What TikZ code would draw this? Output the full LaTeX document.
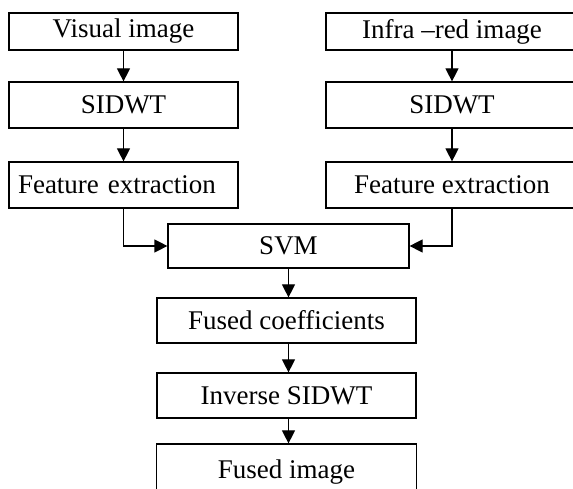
\documentclass[tikz,border=0pt]{standalone}
\usepackage{fontspec}
\setmainfont{Liberation Serif}
\usetikzlibrary{arrows.meta}

\begin{document}
\begin{tikzpicture}[x=1pt, y=1pt,
    block/.style = {draw, line width=1.2pt, inner sep=0pt, font=\fontsize{27}{32}\selectfont},
    flow/.style = {line width=1.2pt, -{Triangle[width=13pt, length=13pt]}}]
        \useasboundingbox (0,0) rectangle (573,489);
        \clip (0,0) rectangle (573,489);
        \node[block, minimum width=229, minimum height=37] (vis) at (123.5,457.5) {Visual image};
        \node[block, minimum width=229, minimum height=46] (sidwtL) at (123.5,384) {SIDWT};
        \node[block, minimum width=229, minimum height=46, text width=211, align=left] (featL) at (123.5,304) {Feature extraction};
        \node[block, minimum width=252, minimum height=37] (infra) at (452,457.5) {Infra –red image};
        \node[block, minimum width=252, minimum height=46] (sidwtR) at (452,384) {SIDWT};
        \node[block, minimum width=252, minimum height=46] (featR) at (452,304) {Feature extraction};
        \node[block, minimum width=241, minimum height=44] (svm) at (288.5,243) {SVM};
        \node[block, minimum width=259, minimum height=45] (fcoef) at (286.5,168.5) {Fused coefficients};
        \node[block, minimum width=259, minimum height=45] (inv) at (286.5,93.5) {Inverse SIDWT};
        \node[block, minimum width=260, minimum height=56] (fused) at (286.5,17) {Fused image};
        \draw[flow] (vis) -- (sidwtL);
        \draw[flow] (sidwtL) -- (featL);
        \draw[flow] (infra) -- (sidwtR);
        \draw[flow] (sidwtR) -- (featR);
        \draw[flow] (featL) |- (svm);
        \draw[flow] (featR) |- (svm);
        \draw[flow] (svm.south) -- (svm.south |- fcoef.north);
        \draw[flow] (fcoef.south -| svm.south) -- (svm.south |- inv.north);
        \draw[flow] (inv.south -| svm.south) -- (svm.south |- fused.north);
      \end{tikzpicture}
\end{document}
